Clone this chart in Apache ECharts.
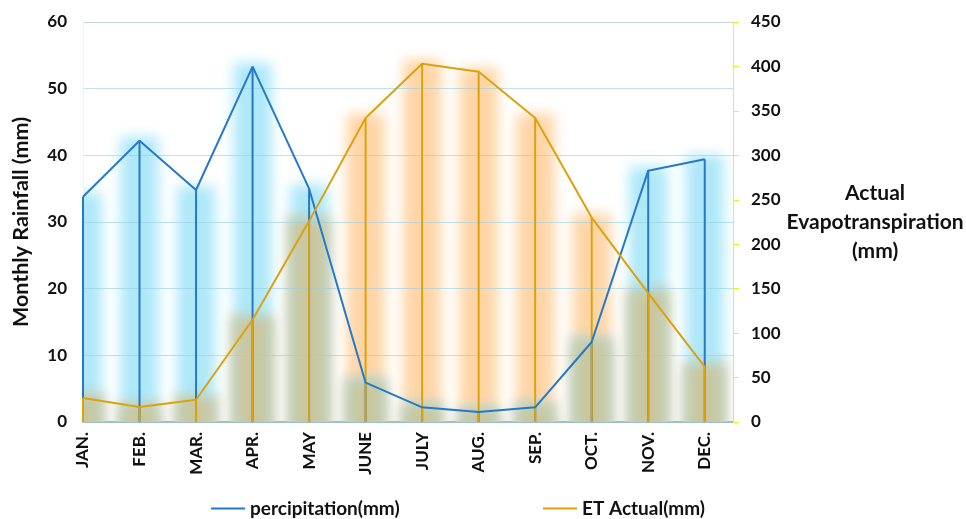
<!DOCTYPE html>
<html>
<head>
<meta charset="utf-8">
<script src="https://cdn.jsdelivr.net/npm/echarts@6/dist/echarts.min.js"></script>
<style>
  html, body { margin: 0; padding: 0; background: #fff; }
  #chart { width: 966px; height: 519px; }
</style>
</head>
<body>
<div id="chart"></div>
<script>
// Monthly climate record: rainfall (left axis) and actual evapotranspiration (right axis)
const months = ['JAN.', 'FEB.', 'MAR.', 'APR.', 'MAY', 'JUNE', 'JULY', 'AUG.', 'SEP.', 'OCT.', 'NOV.', 'DEC.'];
const precipitation = [33.8, 42.2, 34.8, 53.3, 35.0, 5.9, 2.2, 1.5, 2.2, 12.0, 37.7, 39.4];
const etActual = [27, 17, 25, 115, 226, 342, 403, 394, 342, 230, 145, 62];

const rainTicks = { min: 0, max: 60, interval: 10 };
const etTicks = { min: 0, max: 450, interval: 50 };

const BLUE = '#2479C8';
const ORANGE = '#DCA20E';
const GLOW_BLUE = '#AEE8F9';
const GLOW_ORANGE = '#FFD5A6';
const GLOW_MIX = '#C9C7A0';
const FONT = 'Lato, "Open Sans", sans-serif';

const chart = echarts.init(document.getElementById('chart'), null, { renderer: 'canvas' });

// rows: [monthIndex, rainfall, et]
const rows = months.map((m, i) => [i, precipitation[i], etActual[i]]);

// A soft, blurred column: the rectangle itself sits off to the side and only its shadow lands on the bar position.
const GLOW_W = 38;
const GLOW_BLUR = 13;
const SHIFT = 4000;
function glow(cx, yTop, yBottom, color) {
  return {
    type: 'rect',
    shape: { x: cx - GLOW_W / 2 - SHIFT, y: yTop, width: GLOW_W, height: Math.max(0, yBottom - yTop) },
    style: { fill: color, shadowBlur: GLOW_BLUR, shadowColor: color, shadowOffsetX: SHIFT, shadowOffsetY: 0 },
    silent: true
  };
}

function renderGlow(params, api) {
  const i = api.value(0);
  const rainPt = api.coord([i, api.value(1)]);
  const base = api.coord([i, 0]);
  const etPt = chart.convertToPixel({ xAxisIndex: 0, yAxisIndex: 1 }, [i, api.value(2)]);
  const bottom = base[1] + 30;
  const lift = 4;
  const lowTop = Math.max(rainPt[1], etPt[1]);
  return {
    type: 'group',
    children: [
      glow(base[0], etPt[1] - lift, bottom, GLOW_ORANGE),
      glow(base[0], rainPt[1] - lift, bottom, GLOW_BLUE),
      glow(base[0], lowTop - lift, bottom, GLOW_MIX)
    ]
  };
}

function dropLine(color) {
  return function (params, api) {
    const top = api.coord([api.value(0), api.value(1)]);
    const base = api.coord([api.value(0), 0]);
    return {
      type: 'line',
      shape: { x1: top[0], y1: top[1], x2: base[0], y2: base[1] },
      style: { stroke: color, lineWidth: 2 },
      silent: true
    };
  };
}

const legendBase = {
  top: 494,
  itemWidth: 34,
  itemHeight: 2,
  itemGap: 0,
  icon: 'rect',
  textStyle: { fontFamily: FONT, fontWeight: 'bold', fontSize: 19, color: '#111' }
};

const option = {
  animation: false,
  backgroundColor: '#ffffff',
  grid: { left: 83, right: 233, top: 22, bottom: 97, containLabel: false, outerBoundsMode: 'none' },
  legend: [
    Object.assign({ left: 206, data: ['percipitation(mm)'] }, legendBase),
    Object.assign({ left: 538, data: ['ET Actual(mm)'] }, legendBase)
  ],
  xAxis: [
    {
      type: 'value',
      min: 0,
      max: 11.5,
      interval: 1,
      axisLine: { show: true, onZero: false, lineStyle: { color: '#A8A8A8', width: 2 } },
      axisTick: { show: false },
      splitLine: { show: false },
      axisLabel: {
        rotate: 90,
        margin: 10,
        fontFamily: FONT,
        fontWeight: 'bold',
        fontSize: 17,
        color: '#111',
        showMaxLabel: false,
        formatter: v => (Number.isInteger(v) && months[v]) ? months[v] : ''
      }
    },
    {
      type: 'value',
      position: 'top',
      min: 0,
      max: 11.5,
      axisLine: { show: true, onZero: false, lineStyle: { color: '#FBE2D2', width: 1 } },
      axisTick: { show: false },
      axisLabel: { show: false },
      splitLine: { show: false }
    }
  ],
  yAxis: [
    {
      type: 'value',
      min: rainTicks.min,
      max: rainTicks.max,
      interval: rainTicks.interval,
      z: 2,
      name: 'Monthly Rainfall (mm)',
      nameLocation: 'middle',
      nameGap: 51,
      nameTextStyle: { fontFamily: FONT, fontWeight: 'bold', fontSize: 21.5, color: '#111' },
      axisLine: { show: true, onZero: false, lineStyle: { color: '#FFFF99', width: 1 } },
      axisTick: { show: false },
      axisLabel: { fontFamily: FONT, fontWeight: 'bold', fontSize: 17, color: '#111', margin: 16 },
      splitLine: { show: true, lineStyle: { color: 'rgba(150,205,225,0.6)', width: 1 } }
    },
    {
      type: 'value',
      position: 'right',
      min: etTicks.min,
      max: etTicks.max,
      interval: etTicks.interval,
      z: 2,
      name: 'Actual\nEvapotranspiration\n(mm)',
      nameLocation: 'middle',
      nameRotate: 0,
      nameGap: 141,
      nameTextStyle: { fontFamily: FONT, fontWeight: 'bold', fontSize: 21, color: '#111', align: 'center', lineHeight: 29 },
      axisLine: { show: true, onZero: false, lineStyle: { color: '#F4F200', width: 1 } },
      axisTick: { show: true, length: 6, lineStyle: { color: '#F4F200' } },
      axisLabel: { fontFamily: FONT, fontWeight: 'bold', fontSize: 17, color: '#111', margin: 18 },
      splitLine: { show: false }
    }
  ],
  series: [
    {
      name: 'glow',
      type: 'custom',
      xAxisIndex: 0,
      yAxisIndex: 0,
      clip: true,
      z: 1,
      data: rows,
      renderItem: renderGlow,
      encode: { x: 0, y: 1 }
    },
    {
      name: 'rain-drop',
      type: 'custom',
      xAxisIndex: 0,
      yAxisIndex: 0,
      z: 3,
      data: precipitation.map((v, i) => [i, v]),
      renderItem: dropLine(BLUE)
    },
    {
      name: 'et-drop',
      type: 'custom',
      xAxisIndex: 0,
      yAxisIndex: 1,
      z: 4,
      data: etActual.map((v, i) => [i, v]),
      renderItem: dropLine(ORANGE)
    },
    {
      name: 'percipitation(mm)',
      type: 'line',
      xAxisIndex: 0,
      yAxisIndex: 0,
      z: 5,
      symbol: 'none',
      color: BLUE,
      lineStyle: { color: BLUE, width: 2 },
      data: precipitation.map((v, i) => [i, v])
    },
    {
      name: 'ET Actual(mm)',
      type: 'line',
      xAxisIndex: 0,
      yAxisIndex: 1,
      z: 5,
      symbol: 'none',
      color: ORANGE,
      lineStyle: { color: ORANGE, width: 2 },
      data: etActual.map((v, i) => [i, v])
    }
  ]
};

chart.setOption(option);
</script>
</body>
</html>
